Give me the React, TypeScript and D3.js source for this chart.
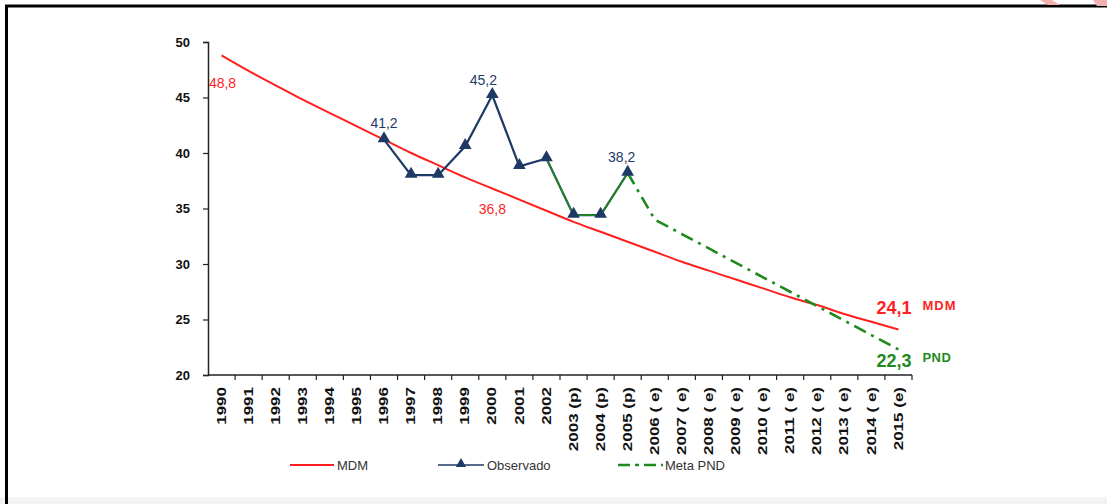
import React, { useEffect, useRef } from "react";
import * as d3 from "d3";

const categories = [
  "1990", "1991", "1992", "1993", "1994", "1995", "1996", "1997", "1998", "1999",
  "2000", "2001", "2002", "2003 (p)", "2004 (p)", "2005 (p)",
  "2006 ( e)", "2007 ( e)", "2008 ( e)", "2009 ( e)", "2010 ( e)",
  "2011 ( e)", "2012 ( e)", "2013 ( e)", "2014 ( e)", "2015 (e)",
];

// MDM (meta do milênio) curva
const mdmValues = [
  48.8, 47.4, 46.1, 44.8, 43.6, 42.4, 41.2, 40.0, 38.9, 37.8,
  36.8, 35.8, 34.8, 33.8, 32.9, 32.0, 31.1, 30.2, 29.4, 28.6,
  27.8, 27.0, 26.3, 25.5, 24.8, 24.1,
];

// Observado
const obsCats = ["1996", "1997", "1998", "1999", "2000", "2001", "2002", "2003 (p)", "2004 (p)", "2005 (p)"];
const obsValues = [41.2, 38.0, 38.0, 40.6, 45.2, 38.8, 39.5, 34.4, 34.4, 38.2];

// Meta PND
const pndCats = [
  "2002", "2003 (p)", "2004 (p)", "2005 (p)", "2006 ( e)", "2007 ( e)", "2008 ( e)",
  "2009 ( e)", "2010 ( e)", "2011 ( e)", "2012 ( e)", "2013 ( e)", "2014 ( e)", "2015 (e)",
];
const pndValues = [39.5, 34.4, 34.4, 38.2, 34.0, 32.7, 31.4, 30.1, 28.8, 27.5, 26.2, 24.9, 23.6, 22.3];

const yTicks = [20, 25, 30, 35, 40, 45, 50];

const RED = "#ff1f1f";
const NAVY = "#1d3a66";
const GREEN = "#1e8a1e";

const App = () => {
  const ref = useRef<SVGSVGElement>(null);

  useEffect(() => {
    const W = 1107, H = 504;
    const svg = d3.select(ref.current);
    svg.selectAll("*").remove();

    svg.append("rect").attr("width", W).attr("height", H).attr("fill", "#fff");
    svg.append("rect").attr("x", 0).attr("y", 497).attr("width", W).attr("height", 7).attr("fill", "#f3f3f3");

    // frame
    svg.append("path")
      .attr("d", `M6.5,${H} V6 H${W}`)
      .attr("fill", "none")
      .attr("stroke", "#000")
      .attr("stroke-width", 3);

    // pale logo fragment top right
    svg.append("path")
      .attr("d", "M1040,0 L1052,0 L1060,5 L1048,5 Z M1093,0 L1107,0 L1107,6 L1097,6 Z")
      .attr("fill", "#f3b0b0");

    const x = d3.scaleBand().domain(categories).range([208, 912]).padding(0);
    const y = d3.scaleLinear().domain([20, 50]).range([375, 42]);
    const cx = (c) => x(c) + x.bandwidth() / 2;

    // y axis
    const gy = svg.append("g")
      .attr("transform", "translate(208,0)")
      .call(d3.axisLeft(y).tickValues(yTicks).tickSize(5).tickPadding(13));
    gy.select(".domain").attr("stroke", "#222").attr("stroke-width", 1.5);
    gy.selectAll(".tick line").attr("stroke", "#222").attr("stroke-width", 1.2);
    gy.selectAll(".tick text")
      .attr("font-family", "Liberation Sans, Arial, sans-serif")
      .attr("font-size", 13)
      .attr("font-weight", "bold")
      .attr("fill", "#111");

    // x axis, ticks on category boundaries
    const xa = svg.append("g").attr("transform", "translate(0,375)");
    xa.append("line")
      .attr("x1", 208).attr("x2", 912)
      .attr("stroke", "#222").attr("stroke-width", 1.5);
    xa.selectAll("line.tk")
      .data(categories)
      .enter()
      .append("line")
      .attr("class", "tk")
      .attr("x1", (d) => x(d) + x.bandwidth())
      .attr("x2", (d) => x(d) + x.bandwidth())
      .attr("y1", 0).attr("y2", 5)
      .attr("stroke", "#222").attr("stroke-width", 1.2);
    xa.selectAll("text")
      .data(categories)
      .enter()
      .append("text")
      .attr("transform", (d) => `translate(${cx(d)},12) rotate(-90) scale(1,0.72)`)
      .attr("text-anchor", "end")
      .attr("dominant-baseline", "central")
      .attr("font-family", "Liberation Sans, Arial, sans-serif")
      .attr("font-size", 17)
      .attr("font-weight", "bold")
      .attr("fill", "#111")
      .text((d) => d);

    // MDM
    const mdm = categories.map((c, i) => [cx(c), y(mdmValues[i])]);
    svg.append("path")
      .attr("d", d3.line().curve(d3.curveMonotoneX)(mdm))
      .attr("fill", "none").attr("stroke", RED).attr("stroke-width", 2);

    // Observado
    const obs = obsCats.map((c, i) => [cx(c), y(obsValues[i])]);
    svg.append("path")
      .attr("d", d3.line()(obs))
      .attr("fill", "none").attr("stroke", NAVY).attr("stroke-width", 2.2);

    // Meta PND - solid part over observed, dash-dot after 2005
    const pnd = pndCats.map((c, i) => [cx(c), y(pndValues[i])]);
    svg.append("path")
      .attr("d", d3.line()(pnd.slice(0, 4)))
      .attr("fill", "none").attr("stroke", GREEN).attr("stroke-width", 1.6);
    svg.append("path")
      .attr("d", d3.line()(pnd.slice(3)))
      .attr("fill", "none").attr("stroke", GREEN).attr("stroke-width", 2.6)
      .attr("stroke-dasharray", "13,6,3,6");

    const tri = d3.symbol().type(d3.symbolTriangle).size(70);
    svg.selectAll("path.mk")
      .data(obs)
      .enter()
      .append("path")
      .attr("class", "mk")
      .attr("d", tri)
      .attr("transform", (d) => `translate(${d[0]},${d[1] - 1})`)
      .attr("fill", NAVY);

    // value labels
    const lab = (txt, lx, ly, color, size, weight, anchor = "middle") =>
      svg.append("text")
        .attr("x", lx).attr("y", ly)
        .attr("text-anchor", anchor)
        .attr("font-family", "Liberation Sans, Arial, sans-serif")
        .attr("font-size", size)
        .attr("font-weight", weight)
        .attr("fill", color)
        .text(txt);

    lab("48,8", cx("1990") + 1, y(48.8) + 33, RED, 14, "normal");
    lab("36,8", cx("2000"), y(36.8) + 25, RED, 14, "normal");
    lab("41,2", cx("1996"), y(41.2) - 12, NAVY, 14, "normal");
    lab("45,2", cx("2000") - 9, y(45.2) - 10, NAVY, 14, "normal");
    lab("38,2", cx("2005 (p)") - 6, y(38.2) - 11, NAVY, 14, "normal");
    lab("24,1", cx("2015 (e)") - 22, y(24.1) - 15, RED, 18, "bold", "start");
    lab("MDM", cx("2015 (e)") + 24, y(24.1) - 19, RED, 13, "bold", "start").attr("letter-spacing", 1);
    lab("22,3", cx("2015 (e)") - 22, y(22.3) + 18, GREEN, 18, "bold", "start");
    lab("PND", cx("2015 (e)") + 24, y(22.3) + 13, GREEN, 13, "bold", "start").attr("letter-spacing", 0.5);

    // legend
    const ly = 465;
    const lg = svg.append("g");
    lg.append("line").attr("x1", 290).attr("x2", 334).attr("y1", ly).attr("y2", ly)
      .attr("stroke", RED).attr("stroke-width", 2);
    lg.append("line").attr("x1", 438).attr("x2", 484).attr("y1", ly).attr("y2", ly)
      .attr("stroke", NAVY).attr("stroke-width", 1.6);
    lg.append("path").attr("d", d3.symbol().type(d3.symbolTriangle).size(45)())
      .attr("transform", `translate(461,${ly - 1})`).attr("fill", NAVY);
    lg.append("line").attr("x1", 618).attr("x2", 663).attr("y1", ly).attr("y2", ly)
      .attr("stroke", GREEN).attr("stroke-width", 2.6).attr("stroke-dasharray", "12,5,4,5");
    [["MDM", 337], ["Observado", 487], ["Meta PND", 665]].forEach(([t, lx]) => {
      lg.append("text")
        .attr("x", lx).attr("y", ly)
        .attr("dominant-baseline", "central")
        .attr("font-family", "Liberation Sans, Arial, sans-serif")
        .attr("font-size", 13)
        .attr("fill", "#333")
        .text(t);
    });
  }, []);

  return (
    <svg
      ref={ref}
      width={1107}
      height={504}
      style={{ position: "absolute", left: 0, top: 0, display: "block" }}
    />
  );
};

export default App;
